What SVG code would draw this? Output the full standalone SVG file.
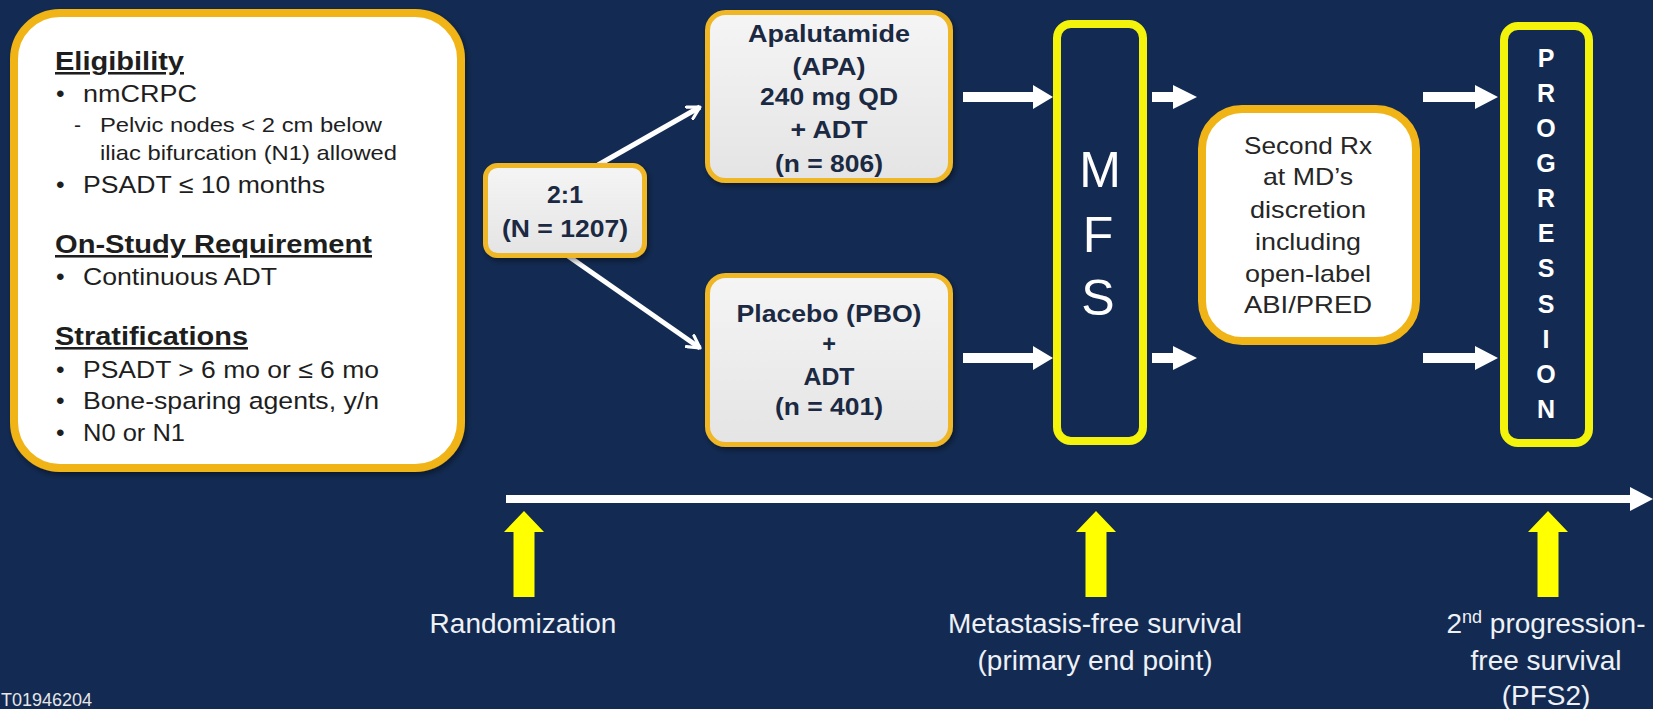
<svg xmlns="http://www.w3.org/2000/svg" width="1653" height="709" viewBox="0 0 1653 709">
<style>
text{font-family:"Liberation Sans",Arial,sans-serif}
.lt{font-size:24.5px;fill:#1e1e1e}
.ls{font-size:21px;fill:#1e1e1e}
.lh{font-size:25.5px;font-weight:bold;fill:#1e1e1e;text-decoration:underline}
.bx{font-size:23.5px;font-weight:bold;fill:#1b2942;text-anchor:middle}
.rx{font-size:24px;fill:#262626;text-anchor:middle}
.mfs{font-size:50px;fill:#ffffff;text-anchor:middle}
.pg{font-size:25px;font-weight:bold;fill:#ffffff;text-anchor:middle}
.lbl{font-size:28px;fill:#eef1f6;text-anchor:middle}
.gold{fill:#ffffff;stroke:#f1b416;stroke-width:8}
.gbox{fill:url(#gg);stroke:#efb627;stroke-width:5}
.ybox{fill:#132b53;stroke:#f3f30c;stroke-width:8}
.warr{fill:#ffffff}
.yarr{fill:#ffff00}
.diag{stroke:#ffffff;stroke-width:5;fill:none;marker-end:url(#open)}
</style>
<defs>
<linearGradient id="gg" x1="0" y1="0" x2="0" y2="1">
<stop offset="0" stop-color="#f5f5f5"/>
<stop offset="1" stop-color="#e4e4e4"/>
</linearGradient>
<filter id="sh" x="-10%" y="-10%" width="125%" height="125%">
<feDropShadow dx="2" dy="3" stdDeviation="3" flood-color="#000" flood-opacity="0.45"/>
</filter>
<marker id="open" viewBox="0 0 12 12" refX="10" refY="6" markerWidth="16" markerHeight="16" markerUnits="userSpaceOnUse" orient="auto">
<path d="M1,1 L10,6 L1,11" fill="none" stroke="#ffffff" stroke-width="2.4" stroke-linecap="round" stroke-linejoin="round"/>
</marker>
</defs>
<rect x="0" y="0" width="1653" height="709" fill="#132b53"/>

<g id="eligibility">
<rect class="gold" x="14" y="13" width="447" height="455" rx="46" filter="url(#sh)"/>
<text class="lh" x="55" y="70" textLength="129" lengthAdjust="spacingAndGlyphs">Eligibility</text>
<text class="lt" x="56" y="102">•</text>
<text class="lt" x="83" y="102" textLength="114" lengthAdjust="spacingAndGlyphs">nmCRPC</text>
<text class="ls" x="74" y="132">-</text>
<text class="ls" x="100" y="132" textLength="282" lengthAdjust="spacingAndGlyphs">Pelvic nodes &lt; 2 cm below</text>
<text class="ls" x="100" y="160" textLength="297" lengthAdjust="spacingAndGlyphs">iliac bifurcation (N1) allowed</text>
<text class="lt" x="56" y="193">•</text>
<text class="lt" x="83" y="193" textLength="242" lengthAdjust="spacingAndGlyphs">PSADT ≤ 10 months</text>
<text class="lh" x="55" y="253" textLength="317" lengthAdjust="spacingAndGlyphs">On-Study Requirement</text>
<text class="lt" x="56" y="285">•</text>
<text class="lt" x="83" y="285" textLength="194" lengthAdjust="spacingAndGlyphs">Continuous ADT</text>
<text class="lh" x="55" y="345" textLength="193" lengthAdjust="spacingAndGlyphs">Stratifications</text>
<text class="lt" x="56" y="378">•</text>
<text class="lt" x="83" y="378" textLength="296" lengthAdjust="spacingAndGlyphs">PSADT &gt; 6 mo or ≤ 6 mo</text>
<text class="lt" x="56" y="409">•</text>
<text class="lt" x="83" y="409" textLength="296" lengthAdjust="spacingAndGlyphs">Bone-sparing agents, y/n</text>
<text class="lt" x="56" y="441">•</text>
<text class="lt" x="83" y="441" textLength="102" lengthAdjust="spacingAndGlyphs">N0 or N1</text>
</g>

<g id="connectors">
<line class="diag" x1="598" y1="165" x2="700" y2="107"/>
<line class="diag" x1="568" y1="256" x2="700" y2="348"/>
<polygon class="warr" points="963,92 1033,92 1033,85 1053,97 1033,109 1033,102 963,102"/>
<polygon class="warr" points="963,353 1033,353 1033,346 1053,358 1033,370 1033,363 963,363"/>
<polygon class="warr" points="1152,92 1173,92 1173,85 1197,97 1173,109 1173,102 1152,102"/>
<polygon class="warr" points="1152,353 1173,353 1173,346 1197,358 1173,370 1173,363 1152,363"/>
<polygon class="warr" points="1423,92 1475,92 1475,85 1498,97 1475,109 1475,102 1423,102"/>
<polygon class="warr" points="1423,353 1475,353 1475,346 1498,358 1475,370 1475,363 1423,363"/>
</g>

<g id="randomization-box">
<rect class="gbox" x="485.5" y="165.5" width="159" height="90" rx="12" filter="url(#sh)"/>
<text class="bx" x="565" y="203" textLength="36" lengthAdjust="spacingAndGlyphs">2:1</text>
<text class="bx" x="565" y="237" textLength="126" lengthAdjust="spacingAndGlyphs">(N = 1207)</text>
</g>

<g id="apalutamide">
<rect class="gbox" x="707.5" y="12.5" width="243" height="168" rx="18" filter="url(#sh)"/>
<text class="bx" x="829" y="42" textLength="162" lengthAdjust="spacingAndGlyphs">Apalutamide</text>
<text class="bx" x="829" y="75" textLength="73" lengthAdjust="spacingAndGlyphs">(APA)</text>
<text class="bx" x="829" y="105" textLength="138" lengthAdjust="spacingAndGlyphs">240 mg QD</text>
<text class="bx" x="829" y="138" textLength="77" lengthAdjust="spacingAndGlyphs">+ ADT</text>
<text class="bx" x="829" y="172" textLength="108" lengthAdjust="spacingAndGlyphs">(n = 806)</text>
</g>

<g id="placebo">
<rect class="gbox" x="707.5" y="275.5" width="243" height="169" rx="18" filter="url(#sh)"/>
<text class="bx" x="829" y="322" textLength="185" lengthAdjust="spacingAndGlyphs">Placebo (PBO)</text>
<text class="bx" x="829" y="352">+</text>
<text class="bx" x="829" y="385" textLength="51" lengthAdjust="spacingAndGlyphs">ADT</text>
<text class="bx" x="829" y="415" textLength="108" lengthAdjust="spacingAndGlyphs">(n = 401)</text>
</g>

<g id="mfs">
<rect class="ybox" x="1057" y="24" width="86" height="417" rx="14"/>
<text class="mfs" x="1100" y="187">M</text>
<text class="mfs" x="1098" y="252">F</text>
<text class="mfs" x="1098" y="315">S</text>
</g>

<g id="second-rx">
<rect class="gold" x="1202" y="109" width="214" height="232" rx="40"/>
<text class="rx" x="1308" y="154" textLength="128" lengthAdjust="spacingAndGlyphs">Second Rx</text>
<text class="rx" x="1308" y="185" textLength="90" lengthAdjust="spacingAndGlyphs">at MD’s</text>
<text class="rx" x="1308" y="218" textLength="116" lengthAdjust="spacingAndGlyphs">discretion</text>
<text class="rx" x="1308" y="250" textLength="106" lengthAdjust="spacingAndGlyphs">including</text>
<text class="rx" x="1308" y="282" textLength="126" lengthAdjust="spacingAndGlyphs">open-label</text>
<text class="rx" x="1308" y="313" textLength="128" lengthAdjust="spacingAndGlyphs">ABI/PRED</text>
</g>

<g id="progression">
<rect class="ybox" x="1504" y="26" width="85" height="417" rx="14"/>
<text class="pg" x="1546" y="67">P</text>
<text class="pg" x="1546" y="102">R</text>
<text class="pg" x="1546" y="137">O</text>
<text class="pg" x="1546" y="172">G</text>
<text class="pg" x="1546" y="207">R</text>
<text class="pg" x="1546" y="242">E</text>
<text class="pg" x="1546" y="277">S</text>
<text class="pg" x="1546" y="313">S</text>
<text class="pg" x="1546" y="348">I</text>
<text class="pg" x="1546" y="383">O</text>
<text class="pg" x="1546" y="418">N</text>
</g>

<g id="timeline">
<rect x="506" y="495" width="1126" height="8" fill="#ffffff"/>
<polygon class="warr" points="1630,487 1653,499 1630,511"/>
</g>

<g id="milestone-randomization">
<polygon class="yarr" points="524,511 544,532 534.5,532 534.5,597 513.5,597 513.5,532 504,532"/>
<text class="lbl" x="523" y="633">Randomization</text>
</g>

<g id="milestone-mfs">
<polygon class="yarr" points="1096,511 1116,532 1106.5,532 1106.5,597 1085.5,597 1085.5,532 1076,532"/>
<text class="lbl" x="1095" y="633">Metastasis-free survival</text>
<text class="lbl" x="1095" y="670">(primary end point)</text>
</g>

<g id="milestone-pfs2">
<polygon class="yarr" points="1548,511 1568,532 1558.5,532 1558.5,597 1537.5,597 1537.5,532 1528,532"/>
<text class="lbl" x="1546" y="633">2<tspan font-size="18" dy="-10">nd</tspan><tspan dy="10"> progression-</tspan></text>
<text class="lbl" x="1546" y="670">free survival</text>
<text class="lbl" x="1546" y="705">(PFS2)</text>
</g>

<text x="1" y="706" font-size="18" fill="#e6e6e6">T01946204</text>
</svg>
